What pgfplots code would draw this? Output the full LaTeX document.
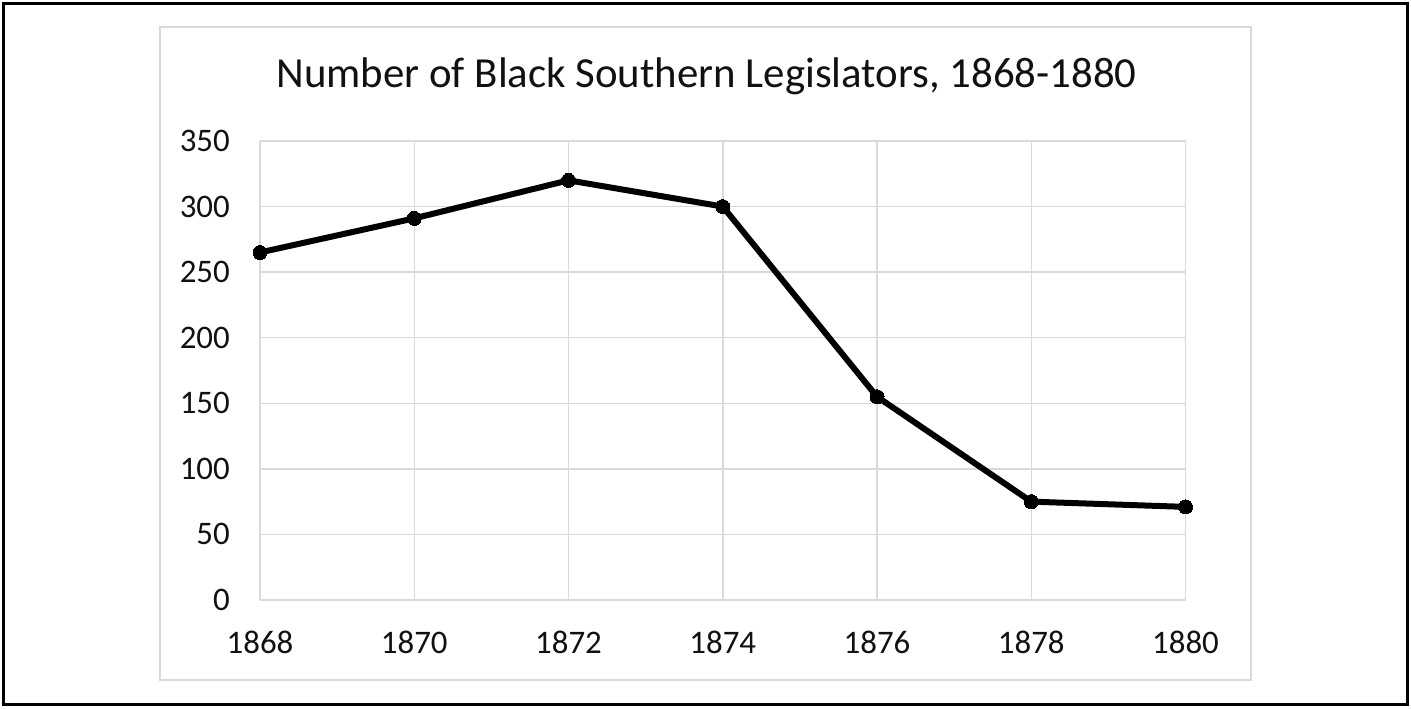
\documentclass[border=0pt]{standalone}
\usepackage{pgfplots}
\pgfplotsset{compat=1.18}
\usepackage{fontspec}
\setmainfont{Carlito}
\definecolor{gridgray}{HTML}{D9D9D9}
\definecolor{txt}{HTML}{111111}
\begin{document}
\begin{tikzpicture}[x=1bp,y=1bp]
\useasboundingbox (0,0) rectangle (1411,708);
\fill[white] (0,0) rectangle (1411,708);
\draw[black, line width=3bp] (3.5,3.5) rectangle (1407.5,704.5);
\draw[gridgray, line width=1.5bp] (160,28) rectangle (1251,681);
\node[anchor=base, font=\fontsize{43}{46}\selectfont, text=txt, inner sep=0pt] at (706.5,620) {Number of Black Southern Legislators, 1868-1880};
\begin{axis}[
  at={(260bp,108bp)}, anchor=south west,
  scale only axis, width=925.5bp, height=459bp,
  xmin=1868, xmax=1880, ymin=0, ymax=350,
  xtick={1868,1870,...,1880}, ytick={0,50,...,350},
  grid=major, major grid style={gridgray, line width=1.5bp},
  axis line style={draw=none},
  major tick length=0pt,
  /pgf/number format/assume math mode=true,
  /pgf/number format/1000 sep={},
  tick label style={font=\fontsize{33}{36}\selectfont, text=txt, inner sep=0pt},
  xticklabel style={yshift=-31bp},
  yticklabel style={xshift=-30bp},
  clip=false,
]
\addplot[black, line width=6bp, mark=*, mark size=7bp, mark options={fill=black, line width=0pt}] coordinates {(1868,265)(1870,291)(1872,320)(1874,300)(1876,155)(1878,75)(1880,71)};
\end{axis}
\end{tikzpicture}
\end{document}
